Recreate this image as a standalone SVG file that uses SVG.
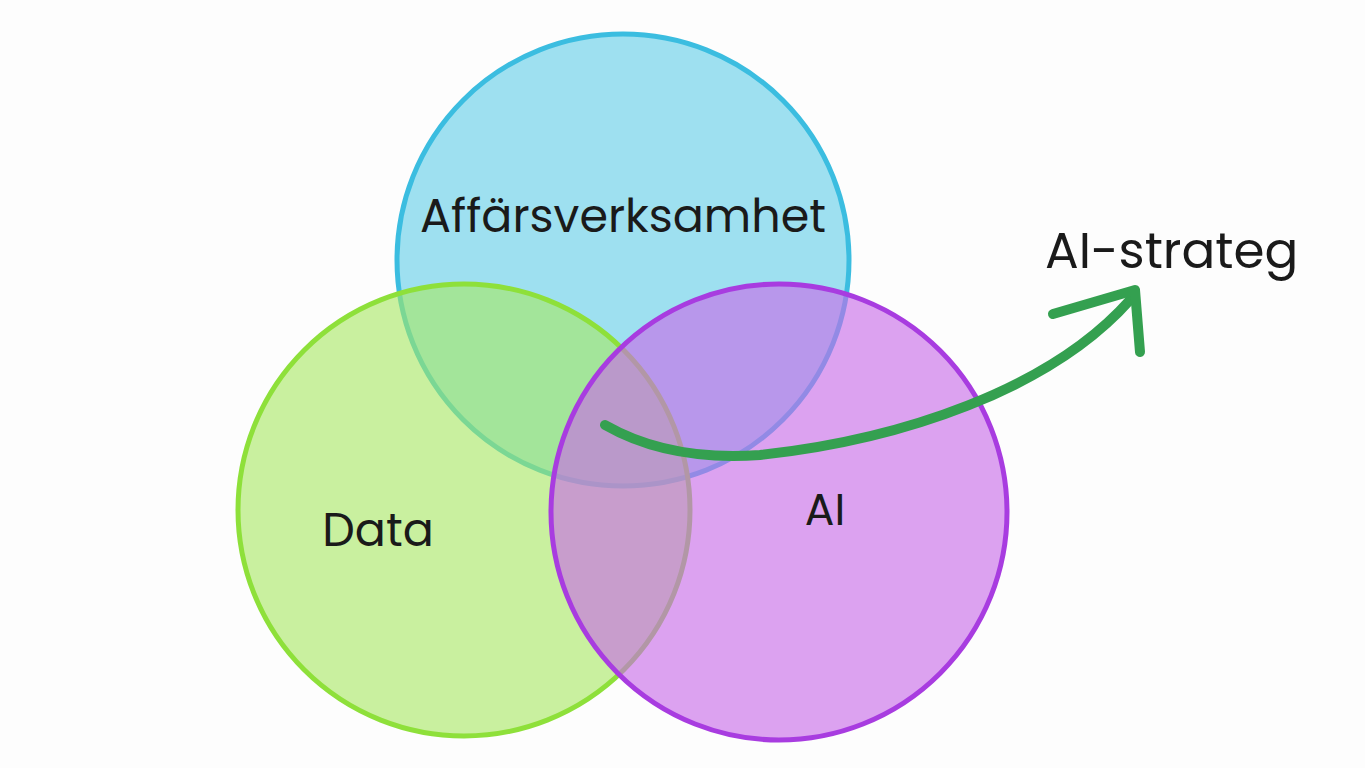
<svg xmlns="http://www.w3.org/2000/svg" width="1365" height="768" viewBox="0 0 1365 768">
<style>
text{font-family:"Poppins","Lato","Liberation Sans",sans-serif;fill:#1a1a1a}
.c{stroke-width:5}
</style>
<rect width="1365" height="768" fill="#fdfdfd"/>
<g id="affars"><circle cx="623" cy="260" r="226" fill="#9ee0f0" stroke="#3bbde0" class="c"/></g>
<g id="data"><circle cx="464" cy="510" r="226" fill="#a6e860" fill-opacity="0.6" stroke="#8ee03a" class="c"/></g>
<g id="ai"><circle cx="779" cy="512" r="228" fill="#c86ae8" fill-opacity="0.62" stroke="#a83ce0" class="c"/></g>
<g id="labels">
<text x="623" y="232" font-size="46" text-anchor="middle">Affärsverksamhet</text>
<text x="378" y="546" font-size="46" text-anchor="middle">Data</text>
<text x="825" y="525" font-size="44" text-anchor="middle">AI</text>
</g>
<g id="connectors" fill="none" stroke="#34a050" stroke-width="10" stroke-linecap="round" stroke-linejoin="round">
<path d="M605 425 C640 445 690 460 760 455 C900 440 1050 390 1130 300"/>
<path d="M1053 314 L1135 290 L1140 352"/>
</g>
<g id="aistrateg"><text x="1045" y="268" font-size="50">AI-strateg</text></g>
</svg>
